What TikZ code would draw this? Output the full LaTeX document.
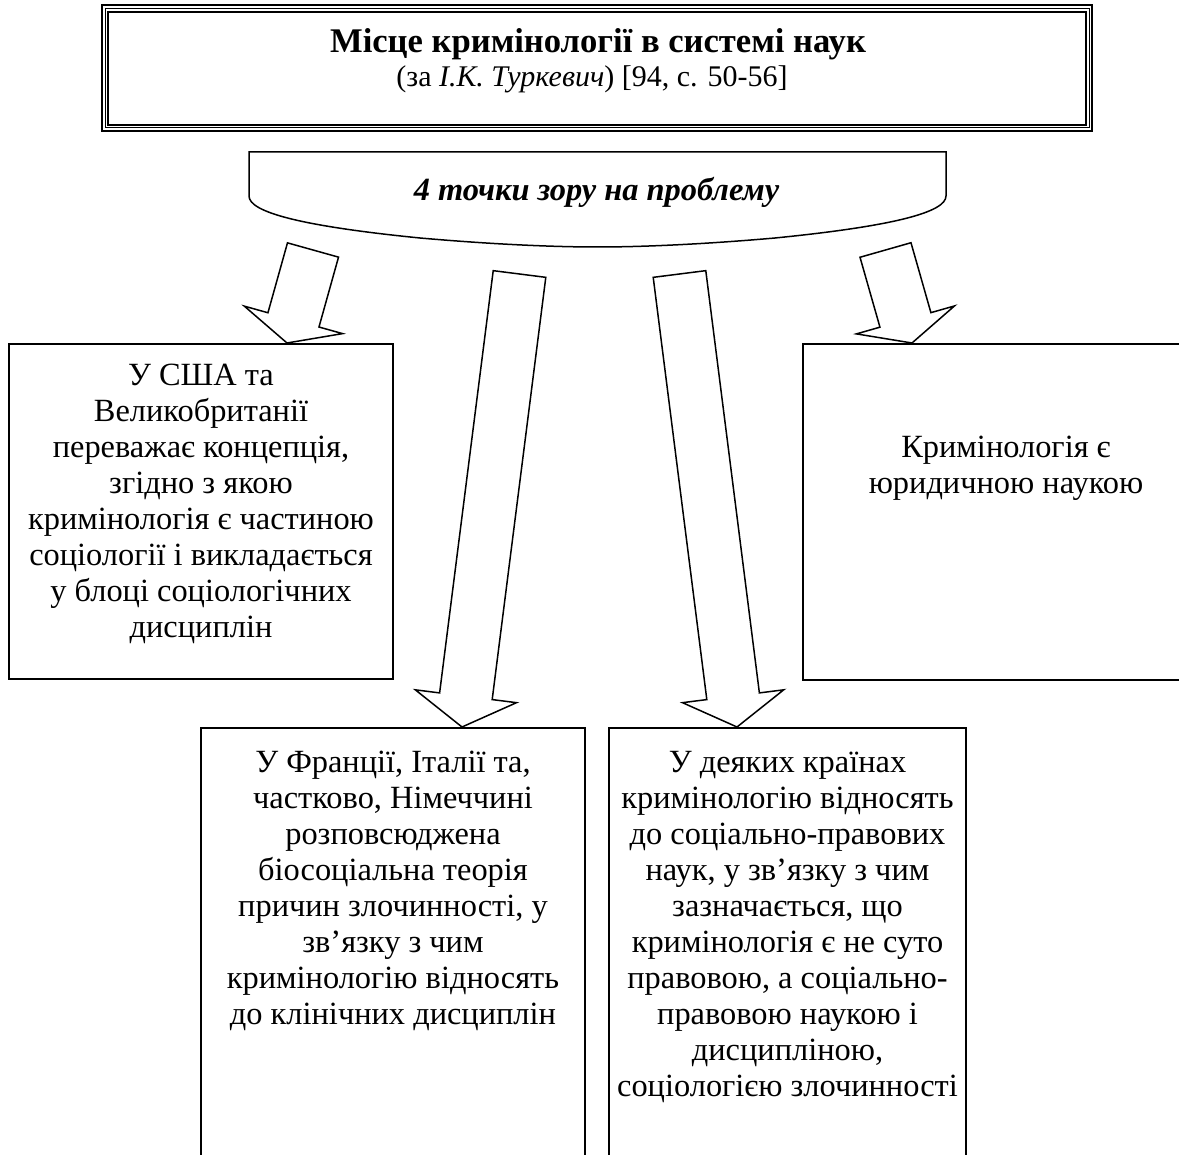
\documentclass[tikz,border=0pt]{standalone}
\usepackage{fontspec}
\setmainfont{Liberation Serif}
\usepackage{tikz}
\usetikzlibrary{calc}
\newcommand{\bodyfont}{\fontsize{16.2pt}{18pt}\selectfont}
\newcommand{\fatarrow}[3]{%
  \coordinate (fa-h) at ($(#2)!#3!(#1)$);
  \draw[blockarr] ($(#1)!13.25pt!90:(#2)$) -- ($(fa-h)!13.25pt!90:(#2)$) -- ($(fa-h)!25.5pt!90:(#2)$) -- (#2)
    -- ($(fa-h)!25.5pt!-90:(#2)$) -- ($(fa-h)!13.25pt!-90:(#2)$) -- ($(#1)!13.25pt!-90:(#2)$) -- cycle;}

\begin{document}
\begin{tikzpicture}[x=0.5pt, y=-0.5pt,
		box/.style = {draw, line width=0.75pt},
		txt/.style = {align=center, font=\bodyfont, inner sep=0pt, anchor=north, execute at begin node=\strut},
		blockarr/.style = {draw, fill=white, line width=0.75pt, line join=miter}]
		\path[use as bounding box, fill=white] (0,0) rectangle (1179,1155);
		\clip (0,0) rectangle (1179,1155);
		% title frame
		\draw[line width=1.15pt] (102,5) rectangle (1092,131);
		\draw[line width=0.5pt] (105,8.5) rectangle (1089,128);
		\draw[line width=1.15pt] (108,12) rectangle (1086,125);
		\node (title) at (598,53) [anchor=base, font=\bfseries\fontsize{17.3pt}{20pt}\selectfont] {Місце кримінології в системі наук};
		\node (source) at (592,87) [anchor=base, font=\fontsize{15pt}{17pt}\selectfont] {(за \textit{І.К. Туркевич}) [94, с. 50-56]};
		% banner
		\draw[box] (249,152) -- (946,152) -- (946,196) .. controls (946,212) and (895,226) .. (775,238)
			.. controls (695,245) and (635,247) .. (597.5,247) .. controls (560,247) and (500,245) .. (420,238)
			.. controls (300,226) and (249,212) .. (249,196) -- cycle;
		\node (views) at (596.5,201) [anchor=base, font=\bfseries\itshape\bodyfont] {4 точки зору на проблему};
		% boxes
		\draw[box] (9,344) rectangle (393,679);
		\draw[box] (803,344) rectangle (1215,680);
		\draw[box] (201,728) rectangle (585,1200);
		\draw[box] (609,728) rectangle (966,1200);
		\node (usa) at (201,364) [txt] {У США та\\Великобританії\\переважає концепція,\\згідно з якою\\кримінологія є частиною\\соціології і викладається\\у блоці соціологічних\\дисциплін};
		\node (law) at (1006,436) [txt] {Кримінологія є\\юридичною наукою};
		\node (france) at (393,750.5) [txt] {У Франції, Італії та,\\частково, Німеччині\\розповсюджена\\біосоціальна теорія\\причин злочинності, у\\зв’язку з чим\\кримінологію відносять\\до клінічних дисциплін};
		\node (some) at (787.5,750.5) [txt] {У деяких країнах\\кримінологію відносять\\до соціально-правових\\наук, у зв’язку з чим\\зазначається, що\\кримінологія є не суто\\правовою, а соціально-\\правовою наукою і\\дисципліною,\\соціологією злочинності};
		% arrows
		\coordinate (t1) at (313,250);
		\coordinate (h1) at (287,343);
		\coordinate (t2) at (519.5,274);
		\coordinate (h2) at (462,727);
		\coordinate (t3) at (679.5,274);
		\coordinate (h3) at (737,727);
		\coordinate (t4) at (885.5,250);
		\coordinate (h4) at (912,343);
		\fatarrow{t1}{h1}{12pt}
		\fatarrow{t2}{h2}{15.5pt}
		\fatarrow{t3}{h3}{15.5pt}
		\fatarrow{t4}{h4}{12pt}
\end{tikzpicture}
\end{document}
